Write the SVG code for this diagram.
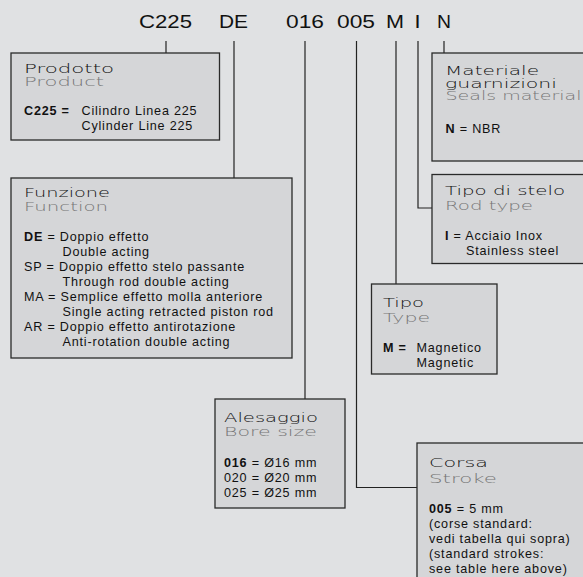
<svg xmlns="http://www.w3.org/2000/svg" width="583" height="577" viewBox="0 0 583 577">
<style>
.bg{fill:#e0e1e3}
.box{fill:#d5d6d8;stroke:#2a2a2a;stroke-width:1.3}
.code{font-family:"Liberation Sans",Arial,sans-serif;font-size:19px;fill:#111}
.t1{font-family:"DejaVu Sans",sans-serif;font-weight:200;font-size:12.5px;fill:#111}
.t2{font-family:"DejaVu Sans",sans-serif;font-weight:200;font-size:12.5px;fill:#777}
.sm{font-size:11.5px}
.b{font-family:"Liberation Sans",Arial,sans-serif;font-size:12.6px;letter-spacing:0.8px;fill:#111}
.bb{font-weight:bold}
.conn path{fill:none;stroke:#222;stroke-width:1.2}
</style>
<rect class="bg" x="0" y="0" width="583" height="577"/>
<g id="code">
<text class="code" x="139" y="28" textLength="53" lengthAdjust="spacingAndGlyphs">C225</text>
<text class="code" x="219" y="28" textLength="29" lengthAdjust="spacingAndGlyphs">DE</text>
<text class="code" x="286" y="28" textLength="38" lengthAdjust="spacingAndGlyphs">016</text>
<text class="code" x="337" y="28" textLength="38" lengthAdjust="spacingAndGlyphs">005</text>
<text class="code" x="386" y="28" textLength="18" lengthAdjust="spacingAndGlyphs">M</text>
<text class="code bb" x="415.5" y="28" textLength="4" lengthAdjust="spacingAndGlyphs">I</text>
<text class="code" x="437" y="28" textLength="14" lengthAdjust="spacingAndGlyphs">N</text>
</g>
<g class="conn" id="connectors">
<path d="M166 41V53"/>
<path d="M234 41V178"/>
<path d="M305 41V399"/>
<path d="M356.5 41V487.5H417"/>
<path d="M396 41V284"/>
<path d="M418 41V208H432"/>
<path d="M444 41V53"/>
</g>
<g id="prodotto">
<rect class="box" x="11" y="53" width="208.5" height="87"/>
<text class="t1 sm" x="24" y="72.5" textLength="90" lengthAdjust="spacingAndGlyphs">Prodotto</text>
<text class="t2 sm" x="24" y="85.5" textLength="80" lengthAdjust="spacingAndGlyphs">Product</text>
<text class="b bb" x="24" y="115">C225 =</text>
<text class="b" x="81.5" y="115">Cilindro Linea 225</text>
<text class="b" x="81.5" y="130">Cylinder Line 225</text>
</g>
<g id="funzione">
<rect class="box" x="11" y="178" width="281" height="180"/>
<text class="t1" x="24" y="196.5" textLength="86" lengthAdjust="spacingAndGlyphs">Funzione</text>
<text class="t2" x="24" y="210.5" textLength="84" lengthAdjust="spacingAndGlyphs">Function</text>
<text class="b" x="24" y="241"><tspan class="bb">DE</tspan> = Doppio effetto</text>
<text class="b" x="62.5" y="256">Double acting</text>
<text class="b" x="24" y="271">SP = Doppio effetto stelo passante</text>
<text class="b" x="62.5" y="286">Through rod double acting</text>
<text class="b" x="24" y="301">MA = Semplice effetto molla anteriore</text>
<text class="b" x="62.5" y="316">Single acting retracted piston rod</text>
<text class="b" x="24" y="331">AR = Doppio effetto antirotazione</text>
<text class="b" x="62.5" y="346">Anti-rotation double acting</text>
</g>
<g id="materiale">
<rect class="box" x="432" y="53" width="160" height="108"/>
<text class="t1 sm" x="445" y="75" textLength="94" lengthAdjust="spacingAndGlyphs">Materiale</text>
<text class="t1 sm" x="445" y="87.5" textLength="112" lengthAdjust="spacingAndGlyphs">guarnizioni</text>
<text class="t2 sm" x="445.5" y="100" textLength="136" lengthAdjust="spacingAndGlyphs">Seals material</text>
<text class="b" x="445.5" y="133"><tspan class="bb">N</tspan> = NBR</text>
</g>
<g id="stelo">
<rect class="box" x="432" y="174.5" width="160" height="89"/>
<text class="t1" x="445" y="195" textLength="120" lengthAdjust="spacingAndGlyphs">Tipo di stelo</text>
<text class="t2" x="445" y="209.5" textLength="88" lengthAdjust="spacingAndGlyphs">Rod type</text>
<text class="b" x="445" y="240"><tspan class="bb">I</tspan> = Acciaio Inox</text>
<text class="b" x="466" y="255">Stainless steel</text>
</g>
<g id="tipo">
<rect class="box" x="371.5" y="284" width="125.5" height="90"/>
<text class="t1" x="383" y="306.5" textLength="41" lengthAdjust="spacingAndGlyphs">Tipo</text>
<text class="t2" x="383" y="321.5" textLength="47" lengthAdjust="spacingAndGlyphs">Type</text>
<text class="b bb" x="383" y="352">M =</text>
<text class="b" x="416.5" y="352">Magnetico</text>
<text class="b" x="416.5" y="367">Magnetic</text>
</g>
<g id="alesaggio">
<rect class="box" x="215" y="399" width="130" height="109"/>
<text class="t1" x="224" y="421.5" textLength="94" lengthAdjust="spacingAndGlyphs">Alesaggio</text>
<text class="t2" x="224" y="435.5" textLength="93" lengthAdjust="spacingAndGlyphs">Bore size</text>
<text class="b" x="224" y="466.5"><tspan class="bb">016</tspan> = Ø16 mm</text>
<text class="b" x="224" y="481.5">020 = Ø20 mm</text>
<text class="b" x="224" y="496.5">025 = Ø25 mm</text>
</g>
<g id="corsa">
<rect class="box" x="417" y="443" width="175" height="145"/>
<text class="t1" x="429" y="466.5" textLength="59" lengthAdjust="spacingAndGlyphs">Corsa</text>
<text class="t2" x="429" y="482.5" textLength="68" lengthAdjust="spacingAndGlyphs">Stroke</text>
<text class="b" x="429" y="512.5"><tspan class="bb">005</tspan> = 5 mm</text>
<text class="b" x="429" y="527.5">(corse standard:</text>
<text class="b" x="429" y="542.5">vedi tabella qui sopra)</text>
<text class="b" x="429" y="557.5">(standard strokes:</text>
<text class="b" x="429" y="572.5">see table here above)</text>
</g>
</svg>
